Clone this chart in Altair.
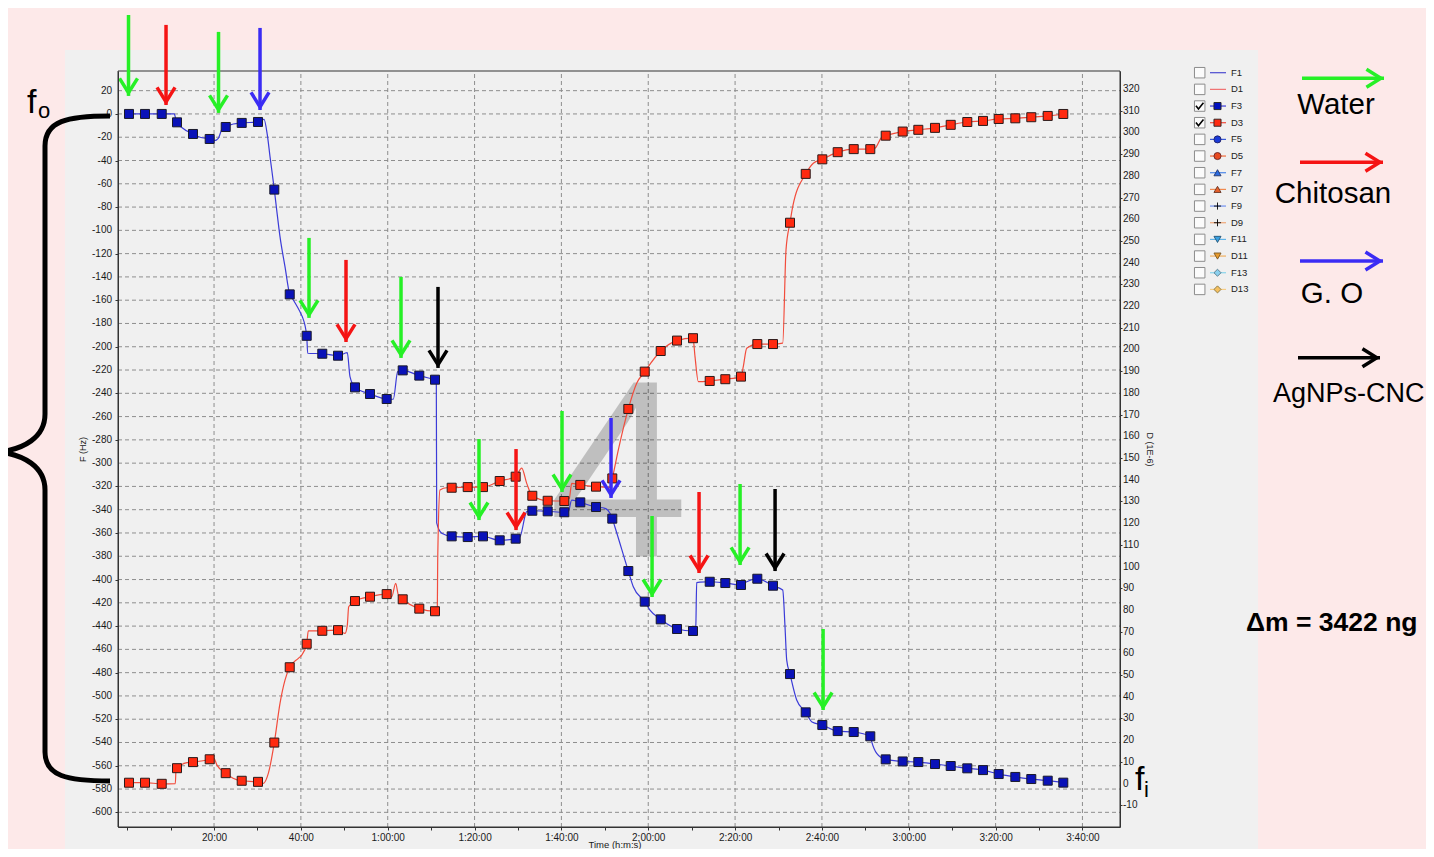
import altair as alt
import pandas as pd

# ------------------------------------------------------------------ data
# marker times (minutes) shared by F3 and D3
time_min = [0.41, 4.10, 7.95, 11.47, 15.15, 19.00, 22.69, 26.37, 30.12, 33.88,
            37.43, 41.34, 44.93, 48.55, 52.46, 55.92, 59.76, 63.45, 67.27, 70.89,
            74.73, 78.42, 81.94, 85.79, 89.47, 93.30, 96.84, 100.67, 104.35, 107.97,
            111.72, 115.41, 119.19, 122.87, 126.63, 130.31, 134.16, 137.75, 141.36, 145.12,
            148.73, 152.65, 156.27, 160.09, 163.63, 167.32, 171.14, 174.69, 178.60, 182.20,
            186.04, 189.66, 193.48, 197.10, 200.71, 204.54, 208.22, 212.00, 215.59]
F3_Hz = [0, 0, 0, -7.2, -17.2, -21.5, -11.2, -7.7, -6.9, -65.0,
         -155.0, -190.6, -206.0, -207.7, -234.9, -240.6, -244.9, -220.3, -224.8, -228.3,
         -362.9, -363.5, -362.9, -366.3, -364.9, -340.9, -341.4, -342.2, -333.7, -337.7,
         -347.7, -392.7, -419.0, -434.2, -442.5, -444.2, -401.9, -403.0, -404.7, -399.3,
         -405.3, -481.2, -514.1, -525.0, -530.2, -531.0, -534.7, -554.5, -556.3, -556.8,
         -558.5, -560.2, -562.2, -563.7, -567.1, -569.6, -571.4, -572.8, -574.5]
D3_1e6 = [0.4, 0.4, -0.1, 7.1, 9.9, 11.2, 4.8, 1.3, 0.8, 18.9,
          53.6, 64.4, 70.4, 70.7, 84.1, 86.1, 87.3, 84.9, 80.6, 79.4,
          136.3, 136.6, 136.6, 139.4, 141.4, 132.6, 130.3, 130.2, 137.6, 136.8,
          140.6, 172.6, 189.8, 199.3, 204.1, 205.2, 185.5, 186.3, 187.5, 202.5,
          202.5, 258.4, 280.9, 287.6, 290.9, 292.3, 292.3, 298.5, 300.4, 301.2,
          302.1, 303.5, 304.8, 305.3, 306.2, 306.5, 307.0, 307.6, 308.5]

# extra points of the continuous traces between markers
F3_trace_t = [10.85, 11.17, 16.77, 20.06, 20.98, 21.76, 24.44, 31.51, 32.27, 32.89,
              34.43, 35.19, 36.34, 38.25, 39.96, 40.33, 41.57, 50.69, 51.31, 61.28,
              62.30, 71.19, 71.28, 72.43, 90.47, 92.01, 101.59, 102.37, 110.04, 111.19,
              112.31, 116.56, 120.40, 130.93, 131.16, 131.92, 142.68, 150.97, 151.50, 151.89,
              154.19, 157.72, 171.47, 172.62]
F3_trace_v = [0, -4.3, -20.0, -22.9, -20.9, -13.7, -8.6, -4.6, -18.0, -36.7,
              -82.5, -105.4, -131.2, -159.8, -171.2, -174.2, -205.6, -205.1, -225.7, -245.1,
              -221.4, -228.6, -351.4, -360.3, -363.2, -341.7, -341.7, -331.7, -338.8, -343.1,
              -354.6, -406.2, -426.2, -443.4, -402.7, -402.2, -401.9, -409.0, -440.6, -469.2,
              -503.5, -522.4, -539.4, -549.3]
D3_trace_t = [11.08, 11.24, 13.31, 19.92, 20.68, 24.37, 31.35, 32.50, 35.19, 36.34,
              39.41, 40.19, 41.71, 50.16, 50.69, 51.01, 60.92, 61.84, 62.44, 71.42,
              71.51, 72.04, 73.58, 90.86, 92.01, 101.82, 102.37, 111.19, 113.11, 117.34,
              130.77, 131.53, 141.89, 142.68, 150.97, 151.73, 153.27, 158.02, 172.23, 173.77]
D3_trace_v = [0.0, 6.2, 9.4, 11.8, 8.5, 2.5, 0.1, 4.7, 37.0, 47.7,
              57.7, 59.2, 70.4, 69.2, 73.0, 81.5, 86.1, 92.3, 86.9, 79.5,
              103.0, 135.3, 136.3, 145.3, 138.3, 131.4, 138.3, 136.5, 153.7, 184.4,
              196.7, 185.2, 192.1, 200.6, 202.9, 245.9, 265.8, 285.8, 292.7, 297.8]

# injection arrows (time, top and tip in F units)
arrow_kind = ["Water", "Chitosan", "Water", "G. O", "Water", "Chitosan", "Water", "AgNPs-CNC",
              "Water", "Chitosan", "Water", "G. O", "Water", "Chitosan", "Water", "AgNPs-CNC", "Water"]
arrow_t = [0.30, 8.94, 21.03, 30.59, 41.87, 50.39, 63.06, 71.58,
           81.02, 89.55, 100.14, 111.43, 120.88, 131.70, 141.15, 149.21, 160.27]
arrow_top = [85.0, 76.5, 70.5, 73.9, -106.5, -125.4, -140.0, -148.6,
             -279.3, -287.9, -255.2, -261.2, -345.4, -324.8, -317.9, -322.2, -442.5]
arrow_tip = [15.5, 7.7, 0.9, 3.4, -175.2, -195.9, -209.6, -218.2,
             -348.9, -357.5, -324.8, -329.9, -415.0, -394.4, -387.5, -392.7, -512.1]

key_kinds = ["Water", "Chitosan", "G. O", "AgNPs-CNC"]

legend_names = ["F1", "D1", "F3", "D3", "F5", "D5", "F7", "D7", "F9", "D9", "F11", "D11", "F13", "D13"]
legend_checked = [0, 0, 1, 1, 0, 0, 0, 0, 0, 0, 0, 0, 0, 0]

F_ticks = list(range(-600, 21, 20))
D_ticks = list(range(-10, 321, 10))
time_ticks = list(range(0, 226, 5))
time_grid = list(range(20, 221, 20))

# ------------------------------------------------------------------ styles
PINK = "#fde9e9"
PANEL = "#f0f0f0"
GRID = "#8e8e8e"
BLUE_LINE = "#3b3bd8"
RED_LINE = "#f24c3c"
BLUE_FILL = "#0a12b8"
RED_FILL = "#ff2a10"
KIND_COLOR = {"Water": "#26f026", "Chitosan": "#f51414", "G. O": "#3b2cf4", "AgNPs-CNC": "#000000"}
FONT = "Liberation Sans"
INK = "#1a1a1a"

CROSS = "M-1,0L1,0M0,-1L0,1"
LEG_LINE = ["#4b4bd0", "#f07070", "#3a3ad8", "#f04a3a", "#3a5ad8", "#f06a3a", "#4a86e8",
            "#f08a50", "#7090f0", "#f0a878", "#60b4e8", "#f0b060", "#88d4ec", "#f6cc84"]
LEG_SHAPE = ["", "", "square", "square", "circle", "circle", "triangle-up", "triangle-up",
             CROSS, CROSS, "triangle-down", "triangle-down", "diamond", "diamond"]
LEG_FILL = ["", "", "#0010c0", "#ff2a10", "#1a3ad8", "#e84a20", "#2a6ae0", "#e8602a",
            "#000000", "#000000", "#3aa0e0", "#e89a2a", "#8ad0ee", "#f4c060"]
LEG_STROKE = ["", "", "#222222", "#222222", "#222266", "#662222", "#223366", "#663322",
              "#000000", "#000000", "#225577", "#775522", "#557788", "#887744"]

HEAD_DOWN = "M-1,-1.95L0,-0.35L1,-1.95"
HEAD_RIGHT = "M-1.95,-1L-0.35,0L-1.95,1"
CHECK = "M-0.75,-0.05L-0.25,0.6L0.75,-0.65"
BRACE = ("M65,-336C22,-336 0,-331 0,-306L0,-38C0,-14 -22,-3 -45,0"
         "C-22,3 0,14 0,38L0,300C0,324 22,329 65,329")

PW, PH = 1002, 756
X_DOM = [-2.12, 228.65]
F_DOM = [-612.6, 36.9]
D_DOM = [-20.0, 328.3]

xs = alt.Scale(domain=X_DOM, nice=False, zero=False)
fs = alt.Scale(domain=F_DOM, nice=False, zero=False)
ds = alt.Scale(domain=D_DOM, nice=False, zero=False)

assert len(time_min) == len(F3_Hz) == len(D3_1e6)
assert len(F3_trace_t) == len(F3_trace_v) and len(D3_trace_t) == len(D3_trace_v)

# ------------------------------------------------------------------ tables
pts = pd.DataFrame({"t": time_min, "F": F3_Hz, "D": D3_1e6})
blue_line_df = pd.concat([pd.DataFrame({"t": time_min, "v": F3_Hz}),
                          pd.DataFrame({"t": F3_trace_t, "v": F3_trace_v})]).sort_values("t")
red_line_df = pd.concat([pd.DataFrame({"t": time_min, "v": D3_1e6}),
                         pd.DataFrame({"t": D3_trace_t, "v": D3_trace_v})]).sort_values("t")
arrows = pd.DataFrame({"t": arrow_t, "top": arrow_top, "tip": arrow_tip,
                       "col": [KIND_COLOR[k] for k in arrow_kind]})
F_lbl = pd.DataFrame({"v": F_ticks, "lbl": [str(v) for v in F_ticks]})
D_lbl = pd.DataFrame({"v": D_ticks, "lbl": [str(v) for v in D_ticks]})
one = pd.DataFrame({"k": [0]})

x_lbl = ("datum.value % 20 != 0 || datum.value == 0 ? '' : (datum.value < 60 ? datum.value + ':00' : "
         "floor(datum.value / 60) + ':' + (datum.value % 60 < 10 ? '0' : '') + (datum.value % 60) + ':00')")

x_axis = alt.Axis(values=time_ticks, labelExpr=x_lbl, tickSize=3, labelPadding=2, grid=False,
                  title="", labelOverlap=False, labelFlush=False, zindex=1, orient="bottom")
# axis labels are kept (transparent) for layout; visible tick labels are drawn below
f_axis = alt.Axis(values=F_ticks, labelExpr="'' + datum.value", orient="left", tickSize=3,
                  labelPadding=3, grid=False, title="F (Hz)", titlePadding=4, labelOpacity=0,
                  labelOverlap=False, labelFlush=False, zindex=1)
d_axis = alt.Axis(values=D_ticks, labelExpr="'' + datum.value", orient="right", tickSize=2,
                  labelPadding=1, grid=False, title="D (1E-6)", titlePadding=5, labelOpacity=0,
                  labelOverlap=False, labelFlush=False, zindex=1)
blank_axis = alt.Axis(labels=False, ticks=False, domain=False, grid=False, title="", orient="left")


def X(field, axis=alt.Undefined):
    return alt.X(field, type="quantitative", scale=xs, axis=axis)


def txt(s, x, y, size, align="left", weight="normal"):
    return alt.Chart(one).mark_text(text=s, font=FONT, fontSize=size, fontWeight=weight,
                                    align=align, baseline="alphabetic", color="#000000").encode(
        x=alt.value(x), y=alt.value(y))


def strip(x0, x1, y0, y1):
    return alt.Chart(one).mark_rect(color=PINK).encode(
        x=alt.value(x0), x2=alt.value(x1), y=alt.value(y0), y2=alt.value(y1))


# ------------------------------------------------------------------ left group (F axis)
axis_carrier = alt.Chart(pts).mark_point(opacity=0, size=1).encode(
    x=X("t", x_axis), y=alt.Y("F:Q", scale=fs, axis=f_axis))

pink_left = strip(-130, -53, -80, 830)
pink_top = strip(-130, 1330, -80, -21)
pink_right = strip(1140, 1330, -80, 830)

hgrid = alt.Chart(pd.DataFrame({"v": F_ticks, "a": X_DOM[0], "b": X_DOM[1]})).mark_rule(
    color=GRID, strokeWidth=1, strokeDash=[4, 3]).encode(
    x=X("a"), x2="b", y=alt.Y("v:Q", scale=fs))
vgrid = alt.Chart(pd.DataFrame({"t": time_grid, "a": F_DOM[0], "b": F_DOM[1]})).mark_rule(
    color=GRID, strokeWidth=1, strokeDash=[4, 3]).encode(
    x=X("t"), y=alt.Y("a:Q", scale=fs), y2="b")

F_tick_labels = alt.Chart(F_lbl).mark_text(font=FONT, fontSize=10, align="right", baseline="middle",
                                           color=INK).encode(
    x=alt.value(-6), y=alt.Y("v:Q", scale=fs), text="lbl:N")

frame = alt.Chart(one).mark_rect(filled=False, color="#333333", strokeWidth=1).encode(
    x=alt.value(0), x2=alt.value(PW), y=alt.value(0), y2=alt.value(PH))

four = alt.Chart(one).mark_text(text="4", font=FONT, fontSize=252, color="#000000", opacity=0.2,
                                align="center", baseline="alphabetic").encode(
    x=alt.value(500.5), y=alt.value(485))

blue_line = alt.Chart(blue_line_df).mark_line(color=BLUE_LINE, strokeWidth=1.2,
                                              interpolate="monotone").encode(
    x=X("t"), y=alt.Y("v:Q", scale=fs))
blue_pts = alt.Chart(pts).mark_square(size=81, fill=BLUE_FILL, stroke="#1a1a2a", strokeWidth=1,
                                      opacity=1).encode(
    x=X("t"), y=alt.Y("F:Q", scale=fs))

left = alt.layer(axis_carrier, pink_left, pink_top, pink_right, hgrid, vgrid, F_tick_labels,
                 four, frame, blue_line, blue_pts)

# ------------------------------------------------------------------ right group (D axis)
red_line = alt.Chart(red_line_df).mark_line(color=RED_LINE, strokeWidth=1.2,
                                            interpolate="monotone").encode(
    x=X("t"), y=alt.Y("v:Q", scale=ds, axis=d_axis))
red_pts = alt.Chart(pts).mark_square(size=81, fill=RED_FILL, stroke="#2a1a1a", strokeWidth=1,
                                     opacity=1).encode(
    x=X("t"), y=alt.Y("D:Q", scale=ds))
D_tick_labels = alt.Chart(D_lbl).mark_text(font=FONT, fontSize=10, align="left", baseline="middle",
                                           color=INK).encode(
    x=alt.value(PW + 3), y=alt.Y("v:Q", scale=ds), text="lbl:N")
right = alt.layer(red_line, red_pts, D_tick_labels)

# ------------------------------------------------------------------ annotations
shafts = alt.Chart(arrows).mark_rule(strokeWidth=3.5, clip=False).encode(
    x=X("t"), y=alt.Y("top:Q", scale=fs, axis=blank_axis), y2="tip:Q",
    color=alt.Color("col:N", scale=None))
heads = alt.Chart(arrows).mark_point(shape=HEAD_DOWN, size=324, filled=False, strokeWidth=3.5,
                                     opacity=1, clip=False).encode(
    x=X("t"), y=alt.Y("tip:Q", scale=fs), color=alt.Color("col:N", scale=None))

key_df = pd.DataFrame({"kind": key_kinds,
                       "x1": [1184, 1182, 1182, 1180], "x2": [1266, 1265, 1265, 1262],
                       "y": [7.3, 91.3, 190.0, 286.7]})
key_df["col"] = [KIND_COLOR[k] for k in key_kinds]
key_shaft = alt.Chart(key_df).mark_rule(strokeWidth=3.5).encode(
    x=alt.X("x1:Q", scale=None), x2="x2:Q", y=alt.Y("y:Q", scale=None),
    color=alt.Color("col:N", scale=None))
key_head = alt.Chart(key_df).mark_point(shape=HEAD_RIGHT, size=324, filled=False, strokeWidth=3.5,
                                        opacity=1).encode(
    x=alt.X("x2:Q", scale=None), y=alt.Y("y:Q", scale=None),
    color=alt.Color("col:N", scale=None))

key_texts = [
    txt("Water", 1218, 43, 29.5, "center"),
    txt("Chitosan", 1215, 132, 29.5, "center"),
    txt("G. O", 1214, 231.7, 29.5, "center"),
    txt("AgNPs-CNC", 1155, 330.7, 27, "left"),
    txt("\u0394m = 3422 ng", 1128, 560, 26.5, "left", "bold"),
    txt("f", -91, 42, 34), txt("o", -80, 47, 22),
    txt("f", 1017, 719, 34), txt("i", 1026, 726, 22),
]
time_title = alt.Chart(one).mark_text(text="Time (h:m:s)", font=FONT, fontSize=9.5, align="center",
                                      baseline="alphabetic", color=INK).encode(
    x=alt.value(497), y=alt.value(777))

brace = alt.Chart(one).mark_point(shape=BRACE, size=4, filled=False, stroke="#000000",
                                  strokeWidth=5, opacity=1).encode(x=alt.value(-73), y=alt.value(381))

# series selector list
leg = pd.DataFrame({"name": legend_names, "lc": LEG_LINE, "sh": LEG_SHAPE, "mf": LEG_FILL,
                    "ms": LEG_STROKE, "chk": legend_checked})
leg["ly"] = [1.7 + 16.67 * i for i in range(len(leg))]
ly = alt.Y("ly:Q", scale=None)
leg_box = alt.Chart(leg).mark_square(size=110, fill="#fbfbfb", stroke="#8c8c8c", strokeWidth=1,
                                     opacity=1).encode(x=alt.value(1081.7), y=ly)
leg_chk = alt.Chart(leg[leg.chk == 1]).mark_point(shape=CHECK, size=100, filled=False,
                                                  stroke="#000000", strokeWidth=1.6,
                                                  opacity=1).encode(x=alt.value(1081.7), y=ly)
leg_line = alt.Chart(leg).mark_rule(strokeWidth=1.2).encode(
    x=alt.value(1092), x2=alt.value(1108), y=ly, color=alt.Color("lc:N", scale=None))
leg_mk = alt.Chart(leg[leg.sh != ""]).mark_point(size=50, filled=True, strokeWidth=0.9,
                                                  opacity=1).encode(
    x=alt.value(1099.5), y=ly, shape=alt.Shape("sh:N", scale=None),
    fill=alt.Fill("mf:N", scale=None), stroke=alt.Stroke("ms:N", scale=None))
leg_txt = alt.Chart(leg).mark_text(font=FONT, fontSize=9.5, align="left", baseline="middle",
                                   color="#222222").encode(x=alt.value(1113), y=ly, text="name:N")

top = alt.layer(shafts, heads, key_shaft, key_head, *key_texts, time_title, brace,
                leg_box, leg_chk, leg_line, leg_mk, leg_txt)

chart = alt.layer(left, right, top).resolve_scale(y="independent").properties(
    width=PW, height=PH,
    padding={"left": 110, "top": 63, "right": 306, "bottom": 22},
    autosize=alt.AutoSizeParams(type="none"),
    background=PANEL,
).configure_view(stroke=None).configure_axis(
    labelFont=FONT, titleFont=FONT, labelFontSize=10, titleFontSize=9, titleFontWeight="normal",
    labelColor=INK, titleColor=INK, domainColor="#333333", tickColor="#333333",
)

chart.save("out.html", embed_options={"renderer": "svg", "actions": False})
